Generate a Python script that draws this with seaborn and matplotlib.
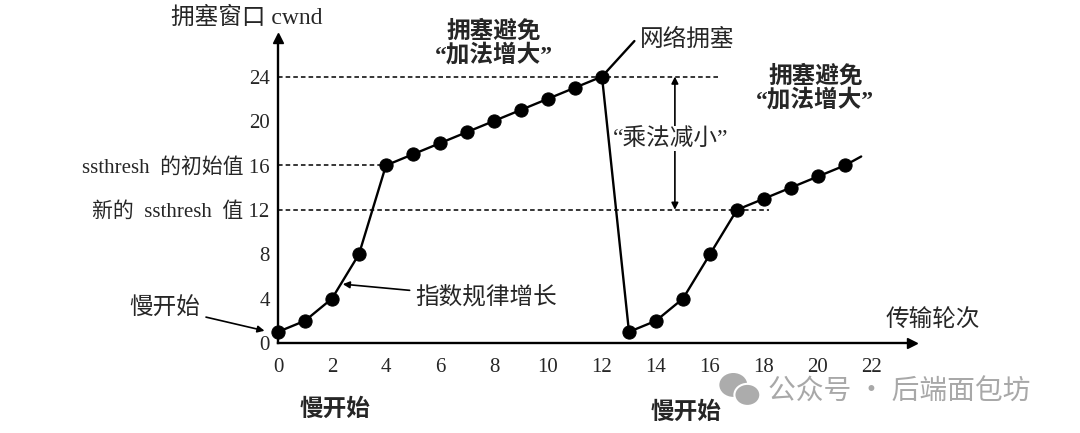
# TCP congestion window over transmission rounds (slow start / congestion avoidance)
import matplotlib
matplotlib.use("Agg")
import matplotlib.pyplot as plt
from matplotlib.patches import Ellipse
import seaborn as sns

rounds = [0, 1, 2, 3, 4, 5, 6, 7, 8, 9, 10, 11, 12, 13, 14, 15, 16, 17, 18, 19, 20, 21]
cwnd = [1, 2, 4, 8, 16, 17, 18, 19, 20, 21, 22, 23, 24, 1, 2, 4, 8, 12, 13, 14, 15, 16]
tail_x = [21, 21.6]
tail_y = [16, 16.8]

x_ticks = [0, 2, 4, 6, 8, 10, 12, 14, 16, 18, 20, 22]
y_ticks = [0, 4, 8, 12, 16, 20, 24]
y_labels = ["0", "4", "8", "新的  ssthresh  值 12", "ssthresh  的初始值 16", "20", "24"]
ssthresh_old = 16
ssthresh_new = 12
cwnd_max = 24

sns.set_style("white")
fam = ["Liberation Serif", "Noto Sans CJK SC"]
plt.rcParams["font.family"] = fam
plt.rcParams["font.size"] = 17

fig = plt.figure(figsize=(10.8, 4.33), dpi=100)
ax = fig.add_axes([0.2574, 0.2079, 0.5875, 0.705])

sns.lineplot(x=rounds, y=cwnd, sort=False, estimator=None, marker="o", markersize=9.5,
             color="black", linewidth=1.7, markeredgecolor="black", ax=ax)
sns.lineplot(x=tail_x, y=tail_y, sort=False, estimator=None, color="black",
             linewidth=1.7, ax=ax)
for ln in ax.lines:
    ln.set_clip_on(False)

# threshold dashed lines
ax.hlines(cwnd_max, 0, 16.3, colors="black", linestyles=(0, (3, 2)), linewidth=1.1)
ax.hlines(ssthresh_old, 0, 4, colors="black", linestyles=(0, (3, 2)), linewidth=1.1)
ax.hlines(ssthresh_new, 0, 18.2, colors="black", linestyles=(0, (3, 2)), linewidth=1.1)

ax.set_xlim(0, 23.5)
ax.set_ylim(0, 27.5)
ax.set_xticks(x_ticks)
ax.set_xticks(range(1, 23, 2), minor=True)
ax.set_yticks(y_ticks)
ax.set_yticklabels(y_labels)
ax.tick_params(axis="both", which="both", direction="in", length=6, width=1.2,
               labelsize=15, color="black")
ax.tick_params(axis="x", pad=11)
ax.tick_params(axis="y", pad=6)
for s in ["top", "right"]:
    ax.spines[s].set_visible(False)
for s in ["left", "bottom"]:
    ax.spines[s].set_linewidth(1.7)
    ax.spines[s].set_color("black")
ax.plot(1, 0, ">k", markersize=7, transform=ax.get_yaxis_transform(), clip_on=False)
ax.plot(0, 1, "^k", markersize=7, transform=ax.get_xaxis_transform(), clip_on=False)
ax.set_xlabel("")
ax.set_ylabel("")

# annotations
ax.text(-1.15, 29.3, "拥塞窗口 cwnd", ha="center", va="center", clip_on=False)
ax.text(8.0, 27.0, "拥塞避免\n“加法增大”", ha="center", va="center",
        fontweight="bold", linespacing=1.05, clip_on=False)
ax.text(19.9, 22.9, "拥塞避免\n“加法增大”", ha="center", va="center",
        fontweight="bold", linespacing=1.05, clip_on=False)
ax.plot([12, 13.2], [24, 27.2], color="black", linewidth=1.7, clip_on=False)
ax.text(13.4, 27.3, "网络拥塞", ha="left", va="center", clip_on=False)
ax.annotate("", xy=(14.7, cwnd_max), xytext=(14.7, ssthresh_new),
            arrowprops=dict(arrowstyle="<|-|>", color="black", lw=1.2,
                            mutation_scale=10, shrinkA=0, shrinkB=0))
ax.text(14.55, 18.4, "“乘法减小”", ha="center", va="center",
        bbox=dict(facecolor="white", edgecolor="none", pad=1))
ax.annotate("指数规律增长", xy=(2.4, 5.3), xytext=(5.1, 4.1), ha="left", va="center",
            arrowprops=dict(arrowstyle="-|>", color="black", lw=1.2,
                            mutation_scale=10, shrinkA=2, shrinkB=0))
ax.annotate("慢开始", xy=(-0.5, 1.1), xytext=(-4.2, 3.2), ha="center", va="center",
            annotation_clip=False,
            arrowprops=dict(arrowstyle="-|>", color="black", lw=1.2,
                            mutation_scale=10, shrinkA=2, shrinkB=0))
ax.text(22.5, 2.1, "传输轮次", ha="left", va="center", clip_on=False)
ax.text(2.1, -6.0, "慢开始", ha="center", va="center", fontweight="bold", clip_on=False)
ax.text(15.1, -6.3, "慢开始", ha="center", va="center", fontweight="bold", clip_on=False)

# watermark
fig.patches.append(Ellipse((0.679, 0.111), 0.0278, 0.060, transform=fig.transFigure,
                           facecolor="#acacac", edgecolor="white", lw=1.5))
fig.patches.append(Ellipse((0.692, 0.088), 0.024, 0.051, transform=fig.transFigure,
                           facecolor="#acacac", edgecolor="white", lw=1.5))
fig.text(0.711, 0.095, "公众号 · 后端面包坊", ha="left", va="center", fontsize=20,
         color="#a8a8a8", family=["Noto Sans CJK SC", "DejaVu Sans"])

fig.savefig("out.png", dpi=100)
